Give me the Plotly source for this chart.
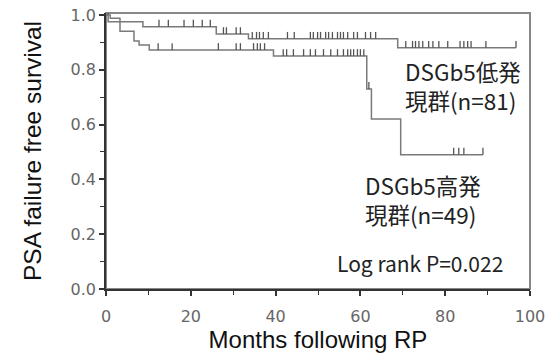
import plotly.graph_objects as go

# Kaplan-Meier step data (time in months, survival)
low_times = [0, 1.0, 3.3, 8.7, 26.0, 33.6, 68.8, 96.7]
low_surv = [1.0, 0.988, 0.975, 0.957, 0.93, 0.913, 0.88, 0.88]
low_censor_t = [0.5, 12.5, 14.7, 18.4, 20.6, 22.7, 24.6, 27.7, 28.4, 30.7, 31.7,
                34.5, 35.5, 36.2, 37.1, 38.3, 42.8, 44.4, 48.2, 48.9, 49.9, 50.6,
                51.8, 52.5, 53.4, 54.6, 55.3, 56.0, 57.0, 58.4, 59.3, 61.2, 62.4,
                63.6, 70.7, 72.3, 73.0, 73.8, 74.7, 76.1, 77.1, 78.5, 80.6, 83.5,
                84.4, 85.3, 86.1, 89.6, 96.7]

high_times = [0, 0.5, 3.3, 6.6, 7.8, 10.2, 39.5, 61.5, 62.6, 69.5, 88.9]
high_surv = [1.0, 0.975, 0.94, 0.905, 0.89, 0.872, 0.85, 0.73, 0.62, 0.49, 0.49]
high_censor_t = [12.3, 15.6, 26.5, 30.7, 31.7, 34.8, 35.7, 36.4, 37.4, 41.8, 42.6,
                 44.2, 46.6, 48.2, 49.4, 51.3, 53.0, 54.6, 56.0, 57.0, 57.7, 58.4,
                 59.3, 60.0, 60.8, 62.0, 82.0, 83.2, 84.4, 88.9]

x_ticks = [0, 20, 40, 60, 80, 100]
y_ticks = [0.0, 0.2, 0.4, 0.6, 0.8, 1.0]

LINE = "#7a7a7a"
TICKC = "#666666"


def surv_at(times, surv, t):
    s = surv[0]
    for ti, si in zip(times, surv):
        if ti <= t:
            s = si
    return s


def censor_segments(times, surv, ct, h=0.025):
    xs, ys = [], []
    for t in ct:
        s = surv_at(times, surv, t)
        xs += [t, t, None]
        ys += [s, s + h, None]
    return xs, ys


fig = go.Figure()
for times, surv, ct in [(low_times, low_surv, low_censor_t), (high_times, high_surv, high_censor_t)]:
    fig.add_trace(go.Scatter(x=times, y=surv, mode="lines", line=dict(color=LINE, width=1.5, shape="hv"),
                             showlegend=False, hoverinfo="skip", cliponaxis=False))
    cx, cy = censor_segments(times, surv, ct)
    fig.add_trace(go.Scatter(x=cx, y=cy, mode="lines", line=dict(color="#555555", width=1.3),
                             showlegend=False, hoverinfo="skip", cliponaxis=False))

font_j = "Noto Sans CJK JP, Noto Sans, sans-serif"
ann = dict(showarrow=False, xanchor="left", yanchor="middle", align="left")
fig.add_annotation(x=70.0, y=0.742, text="DSGb5低発<br>現群(n=81)",
                   font=dict(family=font_j, size=22.5, color="#222"), **ann)
fig.add_annotation(x=60.5, y=0.328, text="DSGb5高発<br>現群(n=49)",
                   font=dict(family=font_j, size=22.5, color="#222"), **ann)
fig.add_annotation(x=53.9, y=0.094, text="Log rank P=0.022",
                   font=dict(family=font_j, size=21, color="#222"), **ann)

fig.add_shape(type="rect", xref="paper", yref="paper", x0=0, x1=1, y0=0, y1=1,
              line=dict(color="#888888", width=2), layer="below")

# figure is 5px wider than the window so that the right margin pushed by the "100"
# label still leaves the plot's right edge at the reference position
fig.update_layout(
    width=557, height=355,
    margin=dict(l=106, r=22, t=13, b=63),
    paper_bgcolor="white", plot_bgcolor="white",
    font=dict(family="Liberation Sans, Arial, sans-serif"),
)
fig.update_xaxes(range=[0, 100], tickvals=x_ticks, ticktext=[str(v) for v in x_ticks],
                 ticklabeloverflow="allow",
                 showgrid=False, zeroline=False, showline=True, linecolor="#333", linewidth=1.5,
                 ticks="outside", ticklen=5, tickcolor="#333", tickwidth=1.5, ticklabelstandoff=7,
                 tickfont=dict(family="DejaVu Sans", size=16, color=TICKC),
                 minor=dict(dtick=10, tick0=0, ticks="outside", ticklen=4, tickcolor="#333", tickwidth=1.2),
                 title=dict(text="Months following RP", font=dict(size=24, color="#111"), standoff=0))
fig.update_yaxes(range=[0, 1.007], tickvals=y_ticks, ticktext=[f"{v:.1f}" for v in y_ticks],
                 automargin="left", ticklabeloverflow="allow",
                 showgrid=False, zeroline=False, showline=True, linecolor="#333", linewidth=1.5,
                 ticks="outside", ticklen=5, tickcolor="#333", tickwidth=1.5,
                 tickfont=dict(family="DejaVu Sans", size=16, color=TICKC),
                 minor=dict(dtick=0.1, tick0=0, ticks="outside", ticklen=4, tickcolor="#333", tickwidth=1.2),
                 title=dict(text="PSA failure free survival", font=dict(size=24.5, color="#111"), standoff=22))

# remove the browser's default 8px page margin so the figure sits at the window's corner
fig.write_html("out.html", config={"displayModeBar": False},
               post_script="document.body.style.margin='0';document.body.style.overflow='hidden';")
